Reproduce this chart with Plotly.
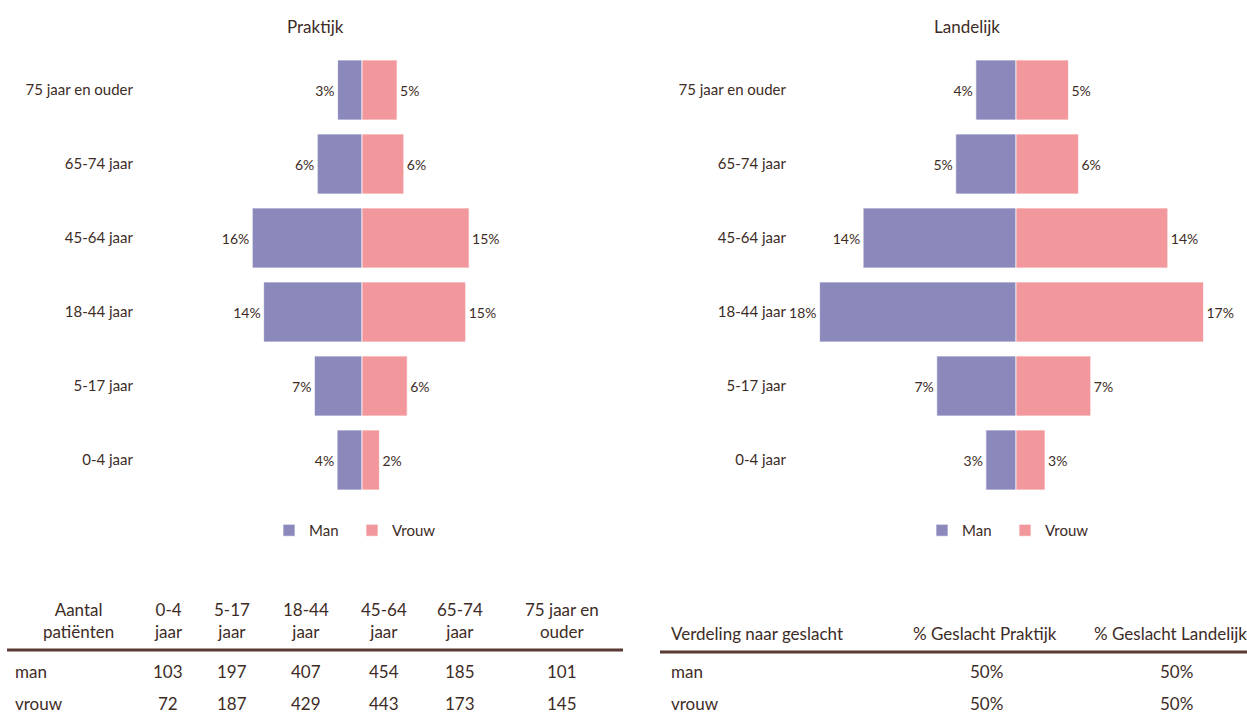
import plotly.graph_objects as go

W, H = 1247, 715

# ---------------- data ----------------
age_groups = ["0-4 jaar", "5-17 jaar", "18-44 jaar", "45-64 jaar", "65-74 jaar", "75 jaar en ouder"]

# patient counts (Praktijk) - from the table
count_man = [103, 197, 407, 454, 185, 101]
count_vrouw = [72, 187, 429, 443, 173, 145]

# Landelijk shares (% of total population)
land_man = [2.7, 7.1, 17.6, 13.7, 5.4, 3.6]
land_vrouw = [2.6, 6.7, 16.8, 13.6, 5.6, 4.7]

# table 1 headers
table1_headers = ["Aantal<br>patiënten", "0-4<br>jaar", "5-17<br>jaar", "18-44<br>jaar",
                  "45-64<br>jaar", "65-74<br>jaar", "75 jaar en<br>ouder"]
row_labels = ["man", "vrouw"]

# table 2
table2_headers = ["Verdeling naar geslacht", "% Geslacht Praktijk", "% Geslacht Landelijk"]
geslacht_praktijk = ["50%", "50%"]
geslacht_landelijk = ["50%", "50%"]

# ---------------- styling ----------------
C_MAN = "#8b89bc"
C_VROUW = "#f2989c"
TXT = "#3d2c26"
LINE = "#5a3b33"
FONT = "Lato"
TFS = 17  # table font size


def px(x):
    return x / W


def py(y):
    return 1 - y / H


total = sum(count_man) + sum(count_vrouw)
prak_man = [c / total * 100 for c in count_man]
prak_vrouw = [c / total * 100 for c in count_vrouw]

fig = go.Figure()

bar_common = dict(orientation="h", textposition="outside",
                  textfont=dict(family=FONT, size=14, color=TXT),
                  cliponaxis=False)
edge = dict(color="rgba(255,255,255,0.7)", width=1)

# Praktijk
fig.add_trace(go.Bar(y=age_groups, x=[-v for v in prak_man], name="Man",
                     text=[f"{round(v)}%" for v in prak_man],
                     marker=dict(color=C_MAN, line=edge),
                     xaxis="x", yaxis="y", legend="legend", **bar_common))
fig.add_trace(go.Bar(y=age_groups, x=prak_vrouw, name="Vrouw",
                     text=[f"{round(v)}%" for v in prak_vrouw],
                     marker=dict(color=C_VROUW, line=edge),
                     xaxis="x", yaxis="y", legend="legend", **bar_common))
# Landelijk
fig.add_trace(go.Bar(y=age_groups, x=[-v for v in land_man], name="Man",
                     text=[f"{round(v)}%" for v in land_man],
                     marker=dict(color=C_MAN, line=edge),
                     xaxis="x2", yaxis="y2", legend="legend2", **bar_common))
fig.add_trace(go.Bar(y=age_groups, x=land_vrouw, name="Vrouw",
                     text=[f"{round(v)}%" for v in land_vrouw],
                     marker=dict(color=C_VROUW, line=edge),
                     xaxis="x2", yaxis="y2", legend="legend2", **bar_common))

ydom = [py(497), py(53)]
r1 = 162 / 7.0
r2 = 216 / 11.16

axis_hidden = dict(visible=False, showgrid=False, zeroline=False, fixedrange=True)
yax_common = dict(showgrid=False, zeroline=False, showline=False, ticks="",
                  tickfont=dict(family=FONT, size=15, color=TXT),
                  categoryorder="array", categoryarray=age_groups,
                  domain=ydom, anchor="free")
leg_common = dict(orientation="h", xanchor="left", yanchor="top", entrywidth=38,
                  font=dict(family=FONT, size=15, color=TXT), bgcolor="rgba(0,0,0,0)",
                  itemclick=False, itemdoubleclick=False)

fig.update_layout(
    width=W, height=H,
    margin=dict(l=0, r=0, t=0, b=0),
    paper_bgcolor="white", plot_bgcolor="white",
    barmode="relative", bargap=0.19,
    font=dict(family=FONT, color=TXT),
    xaxis=dict(domain=[px(200), px(524)], range=[-r1, r1], anchor="y", **axis_hidden),
    xaxis2=dict(domain=[px(800), px(1232)], range=[-r2, r2], anchor="y2", **axis_hidden),
    yaxis=dict(position=px(133), **yax_common),
    yaxis2=dict(position=px(786), **yax_common),
    legend=dict(x=px(269), y=py(514), **leg_common),
    legend2=dict(x=px(922), y=py(514), **leg_common),
    showlegend=True,
)

ann = []
# titles
ann.append(dict(text="Praktijk", x=px(315), y=py(26), xref="paper", yref="paper",
                showarrow=False, xanchor="center", yanchor="middle",
                font=dict(family=FONT, size=17, color=TXT)))
ann.append(dict(text="Landelijk", x=px(967), y=py(26), xref="paper", yref="paper",
                showarrow=False, xanchor="center", yanchor="middle",
                font=dict(family=FONT, size=17, color=TXT)))

# table 1
t1_centers = [78, 168, 232, 306, 384, 460, 562]
for hdr, cx in zip(table1_headers, t1_centers):
    ann.append(dict(text=hdr, x=px(cx), y=py(620), xref="paper", yref="paper",
                    showarrow=False, xanchor="center", yanchor="middle", align="center",
                    font=dict(family=FONT, size=TFS, color=TXT)))
row_y = [671, 703]
for lab, vals, ry in zip(row_labels, [count_man, count_vrouw], row_y):
    ann.append(dict(text=lab, x=px(13), y=py(ry), xref="paper", yref="paper",
                    showarrow=False, xanchor="left", yanchor="middle",
                    font=dict(family=FONT, size=TFS, color=TXT)))
    for v, cx in zip(vals, t1_centers[1:]):
        ann.append(dict(text=str(v), x=px(cx), y=py(ry), xref="paper", yref="paper",
                        showarrow=False, xanchor="center", yanchor="middle",
                        font=dict(family=FONT, size=TFS, color=TXT)))

# table 2
ann.append(dict(text=table2_headers[0], x=px(669), y=py(633), xref="paper", yref="paper",
                showarrow=False, xanchor="left", yanchor="middle",
                font=dict(family=FONT, size=TFS, color=TXT)))
ann.append(dict(text=table2_headers[1], x=px(985), y=py(633), xref="paper", yref="paper",
                showarrow=False, xanchor="center", yanchor="middle",
                font=dict(family=FONT, size=TFS, color=TXT)))
ann.append(dict(text=table2_headers[2], x=px(1092), y=py(633), xref="paper", yref="paper",
                showarrow=False, xanchor="left", yanchor="middle",
                font=dict(family=FONT, size=TFS, color=TXT)))
for lab, vp, vl, ry in zip(row_labels, geslacht_praktijk, geslacht_landelijk, row_y):
    ann.append(dict(text=lab, x=px(669), y=py(ry), xref="paper", yref="paper",
                    showarrow=False, xanchor="left", yanchor="middle",
                    font=dict(family=FONT, size=TFS, color=TXT)))
    ann.append(dict(text=vp, x=px(986), y=py(ry), xref="paper", yref="paper",
                    showarrow=False, xanchor="center", yanchor="middle",
                    font=dict(family=FONT, size=TFS, color=TXT)))
    ann.append(dict(text=vl, x=px(1176), y=py(ry), xref="paper", yref="paper",
                    showarrow=False, xanchor="center", yanchor="middle",
                    font=dict(family=FONT, size=TFS, color=TXT)))

fig.update_layout(annotations=ann)

fig.add_shape(type="line", xref="paper", yref="paper", x0=px(7), x1=px(623),
              y0=py(650), y1=py(650), line=dict(color=LINE, width=3))
fig.add_shape(type="line", xref="paper", yref="paper", x0=px(660), x1=px(1247),
              y0=py(652), y1=py(652), line=dict(color=LINE, width=3))

fig.write_html("out.html")
